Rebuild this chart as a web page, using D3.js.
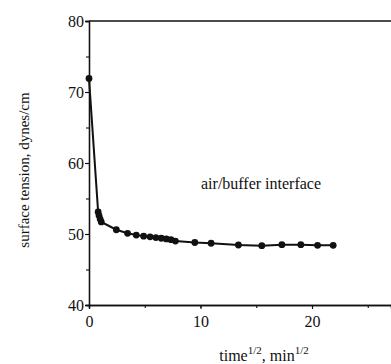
<!DOCTYPE html>
<html>
<head>
<meta charset="utf-8">
<script src="https://cdn.jsdelivr.net/npm/d3@7"></script>
<style>
  body { margin: 0; background: #fff; }
  svg { display: block; }
  text { font-family: "Liberation Serif", "DejaVu Serif", serif; fill: #111; }
</style>
</head>
<body>
<div id="chart"></div>
<script>
// sqrt(time) in min^1/2
var sqrtTime = [0, 0.82, 0.9, 1.0, 1.1, 2.45, 3.46, 4.24, 4.9, 5.48, 6.0, 6.48, 6.93, 7.35, 7.75,
                9.49, 10.95, 13.4, 15.5, 17.3, 19.0, 20.5, 21.9];
// surface tension, dynes/cm
var tension = [71.9, 53.1, 52.6, 52.1, 51.7, 50.6, 50.1, 49.85, 49.7, 49.6, 49.5, 49.4, 49.3, 49.2, 49.0,
               48.8, 48.7, 48.45, 48.35, 48.5, 48.5, 48.4, 48.4];
var yTicks = [40, 50, 60, 70, 80];
var xTicks = [0, 10, 20];

var width = 391, height = 364;
var margin = { top: 21, right: 0, bottom: 59, left: 89 };

var svg = d3.select("#chart").append("svg")
  .attr("width", width)
  .attr("height", height);

var g = svg.append("g")
  .attr("transform", "translate(" + margin.left + "," + margin.top + ")");

var innerW = width - margin.left - margin.right;
var innerH = height - margin.top - margin.bottom;

var x = d3.scaleLinear().domain([0, 302 / 11.15]).range([0, innerW]);
var y = d3.scaleLinear().domain([40, 80]).range([innerH, 0]);

// top frame line
g.append("line")
  .attr("x1", 0).attr("x2", innerW)
  .attr("y1", 0).attr("y2", 0)
  .attr("stroke", "#111").attr("stroke-width", 1.3);

// minor ticks
var xAxisG = g.append("g")
  .attr("transform", "translate(0," + innerH + ")")
  .call(d3.axisBottom(x).tickValues(d3.range(0, 27, 5)).tickSize(3).tickFormat(""));
var yAxisG = g.append("g")
  .call(d3.axisLeft(y).tickValues(d3.range(40, 81, 5)).tickSize(3).tickFormat(""));

// major ticks + labels
var xMajor = g.append("g")
  .attr("transform", "translate(0," + innerH + ")")
  .call(d3.axisBottom(x).tickValues(xTicks).tickSize(4).tickPadding(7).tickFormat(d3.format("d")));
var yMajor = g.append("g")
  .call(d3.axisLeft(y).tickValues(yTicks).tickSize(4).tickPadding(1).tickFormat(d3.format("d")));

[xAxisG, yAxisG, xMajor, yMajor].forEach(function(a) {
  a.select(".domain").attr("stroke", "#111").attr("stroke-width", 1.3);
  a.selectAll(".tick line").attr("stroke", "#111").attr("stroke-width", 1.1);
});
xMajor.selectAll(".tick text").style("font-size", "16px").style("font-family", "Liberation Serif");
yMajor.selectAll(".tick text").style("font-size", "16px").style("font-family", "Liberation Serif");

var points = sqrtTime.map(function(d, i) { return { t: d, v: tension[i] }; });

var line = d3.line()
  .x(function(d) { return x(d.t); })
  .y(function(d) { return y(d.v); });

g.append("path")
  .datum(points)
  .attr("fill", "none")
  .attr("stroke", "#111")
  .attr("stroke-width", 2)
  .attr("d", line);

g.selectAll(".dot")
  .data(points)
  .enter().append("circle")
  .attr("class", "dot")
  .attr("cx", function(d) { return x(d.t); })
  .attr("cy", function(d) { return y(d.v); })
  .attr("r", 3.4)
  .attr("fill", "#111");

// annotation
svg.append("text")
  .attr("x", 201)
  .attr("y", 189)
  .style("font-size", "16px")
  .text("air/buffer interface");

// axis titles
svg.append("text")
  .attr("transform", "translate(29,170) rotate(-90)")
  .attr("text-anchor", "middle")
  .style("font-size", "15px")
  .text("surface tension, dynes/cm");

var xt = svg.append("text")
  .attr("x", 264)
  .attr("y", 361)
  .attr("text-anchor", "middle")
  .style("font-size", "16px");
xt.append("tspan").text("time");
xt.append("tspan").attr("dy", -7).style("font-size", "11px").text("1/2");
xt.append("tspan").attr("dy", 7).text(", min");
xt.append("tspan").attr("dy", -7).style("font-size", "11px").text("1/2");
</script>
</body>
</html>
